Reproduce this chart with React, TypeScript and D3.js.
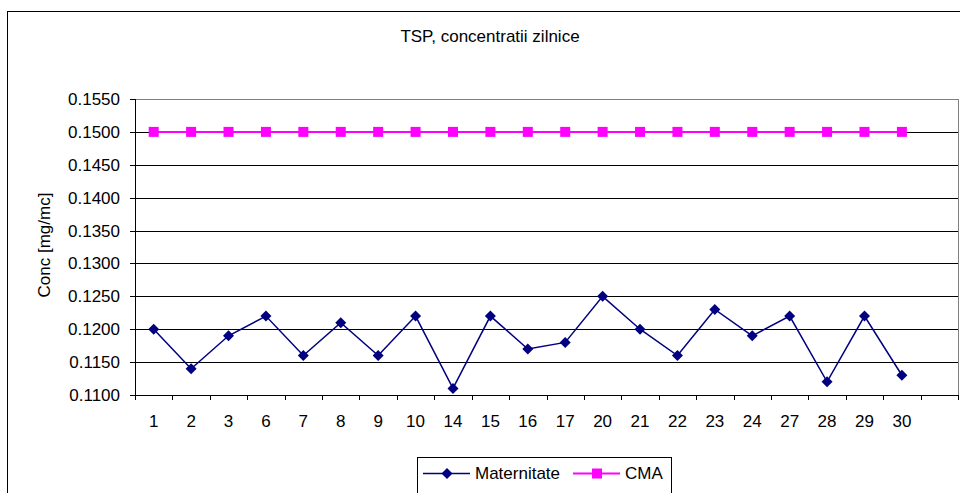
import React from 'react';
import { scaleBand, scaleLinear, line, range } from 'd3';

const days = ['1', '2', '3', '6', '7', '8', '9', '10', '14', '15', '16', '17', '20', '21', '22', '23', '24', '27', '28', '29', '30'];
const maternitate = [0.12, 0.114, 0.119, 0.122, 0.116, 0.121, 0.116, 0.122, 0.111, 0.122, 0.117, 0.118, 0.125, 0.12, 0.116, 0.123, 0.119, 0.122, 0.112, 0.122, 0.113];
const cma = [0.15, 0.15, 0.15, 0.15, 0.15, 0.15, 0.15, 0.15, 0.15, 0.15, 0.15, 0.15, 0.15, 0.15, 0.15, 0.15, 0.15, 0.15, 0.15, 0.15, 0.15];
const yTicks = [0.11, 0.115, 0.12, 0.125, 0.13, 0.135, 0.14, 0.145, 0.15, 0.155];

const FONT = '"Liberation Sans", Arial, sans-serif';
const FS = 17;
const left = 135;
const right = 958;
const top = 99;
const bottom = 395;

export default function App () {
  // one blank slot at the end, as in the original
  const x = scaleBand<string>()
    .domain([...days, ''])
    .range([left, right]);
  const y = scaleLinear()
    .domain([0.11, 0.155])
    .range([bottom, top]);
  const cx = (d: string) => (x(d) as number) + x.bandwidth() / 2;

  const path = line<number>()
    .x((_, i) => cx(days[i]))
    .y(v => y(v));

  const diamond = (px: number, py: number) =>
    `M${px},${py - 5.5}L${px + 5.5},${py}L${px},${py + 5.5}L${px - 5.5},${py}Z`;

  const edges = range(x.domain().length + 1).map(i => left + i * x.step());

  return (
    <svg
      width={960}
      height={493}
      style={{ position: 'absolute', left: 0, top: 0, background: '#fff' }}
      fontFamily={FONT}
    >
      <rect x={7.5} y={11.5} width={1000} height={520} fill="#fff" stroke="#000" />
      <text x={490} y={42} textAnchor="middle" fontSize={FS}>TSP, concentratii zilnice</text>

      {/* grid */}
      {yTicks.map(t => (
        <line key={t} x1={left - 5} x2={right} y1={Math.round(y(t)) + 0.5} y2={Math.round(y(t)) + 0.5} stroke="#000" />
      ))}
      <rect x={left + 0.5} y={top + 0.5} width={right - left} height={bottom - top} fill="none" stroke="#808080" />
      <line x1={left + 0.5} x2={left + 0.5} y1={top} y2={bottom + 1} stroke="#000" />
      <line x1={left} x2={right} y1={bottom + 0.5} y2={bottom + 0.5} stroke="#000" />

      {yTicks.map(t => (
        <text key={t} x={120} y={y(t)} dy="0.35em" textAnchor="end" fontSize={FS}>{t.toFixed(4)}</text>
      ))}
      {edges.map(e => (
        <line key={e} x1={Math.round(e) + 0.5} x2={Math.round(e) + 0.5} y1={bottom} y2={bottom + 5} stroke="#000" />
      ))}
      {days.map(d => (
        <text key={d} x={cx(d)} y={427} textAnchor="middle" fontSize={FS}>{d}</text>
      ))}

      <text transform="translate(50,245) rotate(-90)" textAnchor="middle" fontSize={FS}>Conc [mg/mc]</text>

      {/* series */}
      <path d={path(cma) as string} fill="none" stroke="#FF00FF" strokeWidth={2} />
      {cma.map((v, i) => (
        <rect key={i} x={cx(days[i]) - 5} y={y(v) - 5} width={10} height={10} fill="#FF00FF" />
      ))}
      <path d={path(maternitate) as string} fill="none" stroke="#000080" strokeWidth={1.5} />
      {maternitate.map((v, i) => (
        <path key={i} d={diamond(cx(days[i]), y(v))} fill="#000080" />
      ))}

      {/* legend */}
      <rect x={417.5} y={457.5} width={254} height={40} fill="#fff" stroke="#000" />
      <line x1={423} x2={470} y1={473.5} y2={473.5} stroke="#000080" strokeWidth={1.5} />
      <path d={diamond(447, 473.5)} fill="#000080" />
      <text x={475} y={473.5} dy="0.35em" fontSize={FS}>Maternitate</text>
      <line x1={573} x2={620} y1={473.5} y2={473.5} stroke="#FF00FF" strokeWidth={2} />
      <rect x={592} y={468.5} width={10} height={10} fill="#FF00FF" />
      <text x={625} y={473.5} dy="0.35em" fontSize={FS}>CMA</text>
    </svg>
  );
}
